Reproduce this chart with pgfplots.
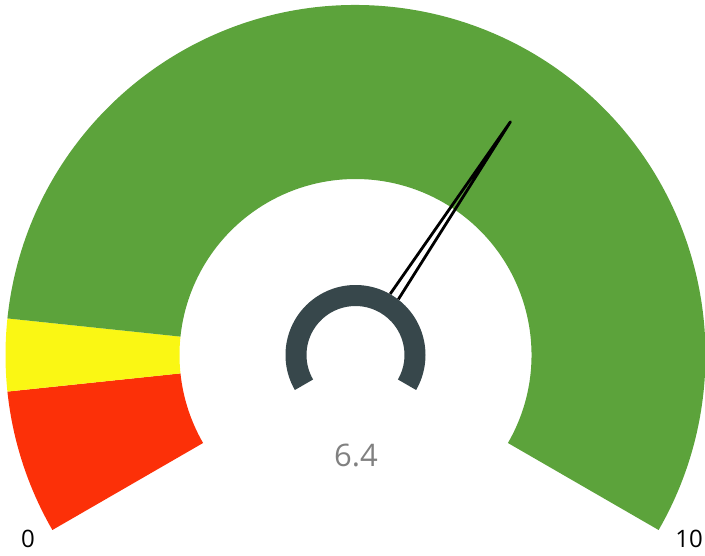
\documentclass[border=0pt]{standalone}
\usepackage{pgfplots}
\pgfplotsset{compat=1.18}
\usepackage{fontspec}
\setmainfont{Open Sans}
\definecolor{gRed}{HTML}{FC3008}
\definecolor{gYellow}{HTML}{FAF714}
\definecolor{gGreen}{HTML}{5CA33B}
\definecolor{gHub}{HTML}{37474B}
\definecolor{gText}{HTML}{808080}
% gauge geometry (pixel-like units, y up)
\def\cx{355.5}
\def\cy{200}
% value -> angle: 0 at 210 deg, 10 at -30 deg
\newcommand\gaugeband[5]{% from, to, color, outer r, inner r
  \fill[#3] (axis cs:{\cx+#4*cos(210-24*#1)},{\cy+#4*sin(210-24*#1)})
    arc[start angle={210-24*#1}, end angle={210-24*#2}, radius=#4pt]
    -- (axis cs:{\cx+#5*cos(210-24*#2)},{\cy+#5*sin(210-24*#2)})
    arc[start angle={210-24*#2}, end angle={210-24*#1}, radius=#5pt]
    -- cycle;}
\def\gval{6.4}
\begin{document}
\begin{tikzpicture}
\begin{axis}[x=1pt,y=1pt,xmin=0,xmax=705,ymin=0,ymax=555,
  hide axis, clip=false, anchor=south west, at={(0,0)}]
% bands: 0-1 red, 1-1.5 yellow, 1.5-10 green
\gaugeband{0}{1}{gRed}{350}{176}
\gaugeband{1}{1.5}{gYellow}{350}{176}
\gaugeband{1.5}{10}{gGreen}{350}{176}
% needle at value 6.4
\draw[black, line width=2.8pt, line join=round, line cap=butt]
  (axis cs:{\cx+70.2*cos(210-24*\gval+4)},{\cy+70.2*sin(210-24*\gval+4)})
  -- (axis cs:{\cx+280*cos(210-24*\gval)},{\cy+280*sin(210-24*\gval)})
  -- (axis cs:{\cx+70.2*cos(210-24*\gval-4)},{\cy+70.2*sin(210-24*\gval-4)});
% hub
\gaugeband{0}{10}{gHub}{70}{49}
% labels
\node[text=gText, inner sep=0pt, font=\fontsize{31}{36}\selectfont] at (axis cs:356,100) {6.4};
\node[text=black, inner sep=0pt, font=\fontsize{24}{28}\selectfont] at (axis cs:28,16) {0};
\node[text=black, inner sep=0pt, font=\fontsize{24}{28}\selectfont] at (axis cs:689,16) {10};
\end{axis}
\pgfresetboundingbox
\path[use as bounding box] (0,0) rectangle (705pt,555pt);
\end{tikzpicture}
\end{document}
